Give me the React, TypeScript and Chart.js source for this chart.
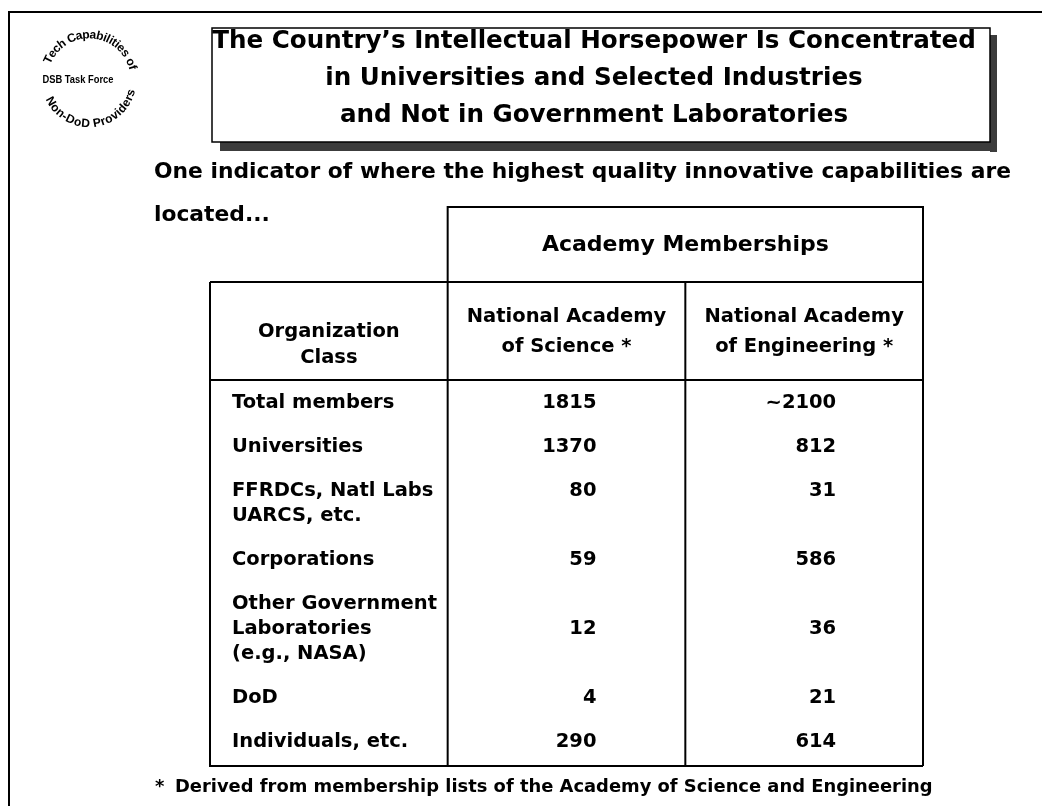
import React, { useEffect, useRef } from 'react';
import { Chart, registerables } from 'chart.js';

Chart.register(...registerables);

// ---------- data ----------
const titleLines = [
  'The Country\u2019s Intellectual Horsepower Is Concentrated',
  'in Universities and Selected Industries',
  'and Not in Government Laboratories',
];
const subtitleLines = [
  'One indicator of where the highest quality innovative capabilities are',
  'located...',
];
const groupHeader = 'Academy Memberships';
const columnKeys = ['org', 'nas', 'nae'];
const columnHeaders = ['Organization\nClass', 'National Academy\nof Science *', 'National Academy\nof Engineering *'];
const rowLabels = [
  'Total members',
  'Universities',
  'FFRDCs, Natl Labs\nUARCS, etc.',
  'Corporations',
  'Other Government\nLaboratories\n(e.g., NASA)',
  'DoD',
  'Individuals, etc.',
];
const scienceMembers = [1815, 1370, 80, 59, 12, 4, 290];
const engineeringMembers = [2100, 812, 31, 586, 36, 21, 614];
const engineeringApprox = [true, false, false, false, false, false, false];
const footnote = 'Derived from membership lists of the Academy of Science and Engineering';
const logoTop = 'Tech Capabilities of';
const logoMiddle = 'DSB Task Force';
const logoBottom = 'Non-DoD Providers';

// ---------- layout (y values are in text-line units) ----------
const ROW_GAP = 0.76;
const Y_MIN = -7.84;
const Y_MAX = 14.52;
const Y_GROUP_TEXT = -6.32;
const Y_TABLE_TOP = -4.84;
const Y_HEADER_LINE = -0.92;
const FONT = '"DejaVu Sans", sans-serif';

const rowLineCounts = rowLabels.map((l) => l.split('\n').length);
const rowStart: number[] = [];
{
  let acc = 0;
  rowLineCounts.forEach((n) => {
    rowStart.push(acc);
    acc += n + ROW_GAP;
  });
}
const valueRow = rowStart.map((s, i) => s + Math.floor((rowLineCounts[i] - 1) / 2));

function txt(ctx: CanvasRenderingContext2D, s: string, x: number, y: number, size: number, align: CanvasTextAlign = 'left', font = FONT) {
  ctx.font = `bold ${size}px ${font}`;
  ctx.textAlign = align;
  ctx.textBaseline = 'middle';
  ctx.fillStyle = '#000';
  ctx.fillText(s, x, y);
}

function arcText(ctx: CanvasRenderingContext2D, s: string, cx: number, cy: number, r: number, mid: number, top: boolean) {
  ctx.font = `bold 12px "Liberation Sans", sans-serif`;
  const total = ctx.measureText(s).width;
  const span = total / r;
  let a = top ? mid - span / 2 : mid + span / 2;
  for (const ch of s) {
    const w = ctx.measureText(ch).width;
    const ac = top ? a + w / 2 / r : a - w / 2 / r;
    ctx.save();
    ctx.translate(cx + r * Math.cos(ac), cy + r * Math.sin(ac));
    ctx.rotate(top ? ac + Math.PI / 2 : ac - Math.PI / 2);
    ctx.textAlign = 'center';
    ctx.textBaseline = 'middle';
    ctx.fillStyle = '#000';
    ctx.fillText(ch, 0, 0);
    ctx.restore();
    a = top ? a + w / r : a - w / r;
  }
}

const tablePlugin = {
  id: 'academyTable',
  beforeDraw(chart: any) {
    const ctx: CanvasRenderingContext2D = chart.ctx;
    ctx.save();
    ctx.fillStyle = '#fff';
    ctx.fillRect(0, 0, chart.width, chart.height);
    ctx.restore();
  },
  afterDraw(chart: any) {
    const ctx: CanvasRenderingContext2D = chart.ctx;
    const xs = chart.scales.x;
    const ys = chart.scales.y;
    const area = chart.chartArea;
    const cc = (i: number) => xs.getPixelForValue(i);
    const half = (cc(1) - cc(0)) / 2;
    const colLeft = (i: number) => cc(i) - half;
    const py = (v: number) => ys.getPixelForValue(v);
    ctx.save();

    // page frame
    ctx.strokeStyle = '#000';
    ctx.lineWidth = 2;
    ctx.beginPath();
    ctx.moveTo(9, chart.height);
    ctx.lineTo(9, 12);
    ctx.lineTo(chart.width, 12);
    ctx.stroke();

    // logo
    const lcx = 89, lcy = 80;
    arcText(ctx, logoTop, lcx, lcy, 45, -Math.PI * 0.48, true);
    arcText(ctx, logoBottom, lcx, lcy, 44, Math.PI * 0.47, false);
    ctx.save();
    ctx.translate(78, 80);
    ctx.scale(0.85, 1);
    txt(ctx, logoMiddle, 0, 0, 11, 'center', '"Liberation Sans", sans-serif');
    ctx.restore();

    // title box with shadow
    ctx.fillStyle = '#3c3c3c';
    ctx.fillRect(990, 35, 7, 117);
    ctx.fillRect(220, 142, 777, 9);
    ctx.fillStyle = '#fff';
    ctx.fillRect(212, 28, 778, 114);
    ctx.lineWidth = 1.5;
    ctx.strokeRect(212, 28, 778, 114);
    titleLines.forEach((l, i) => txt(ctx, l, 594, 42 + i * 37, 24.6, 'center'));

    // subtitle
    subtitleLines.forEach((l, i) => txt(ctx, l, 154, 172 + i * 43, 21.8, 'left'));

    // table lines
    const right = area.right;
    const left = colLeft(0);
    const d1 = colLeft(1);
    const d2 = colLeft(2);
    ctx.lineWidth = 2;
    ctx.strokeStyle = '#000';
    ctx.beginPath();
    ctx.moveTo(d1, py(Y_TABLE_TOP));
    ctx.lineTo(d1, area.top);
    ctx.lineTo(right, area.top);
    ctx.lineTo(right, area.bottom);
    ctx.moveTo(left, py(Y_TABLE_TOP));
    ctx.lineTo(right, py(Y_TABLE_TOP));
    ctx.moveTo(left, py(Y_TABLE_TOP));
    ctx.lineTo(left, area.bottom);
    ctx.lineTo(right, area.bottom);
    ctx.moveTo(d1, py(Y_TABLE_TOP));
    ctx.lineTo(d1, area.bottom);
    ctx.moveTo(d2, py(Y_TABLE_TOP));
    ctx.lineTo(d2, area.bottom);
    ctx.moveTo(left, py(Y_HEADER_LINE));
    ctx.lineTo(right, py(Y_HEADER_LINE));
    ctx.stroke();

    // group header text
    txt(ctx, groupHeader, (d1 + right) / 2, py(Y_GROUP_TEXT), 22, 'center');

    // column headers
    columnHeaders.forEach((h, c) => {
      const lines = h.split('\n');
      const step = c === 0 ? 1.04 : 1.2;
      const mid = c === 0 ? -2.32 : -2.84;
      lines.forEach((l, k) => {
        const v = mid + (k - (lines.length - 1) / 2) * step;
        txt(ctx, l, cc(c), py(v), 19.5, 'center');
      });
    });

    // row labels
    rowLabels.forEach((lab, r) => {
      lab.split('\n').forEach((l, k) => {
        txt(ctx, l, left + 22, py(rowStart[r] + k), 19.5, 'left');
      });
    });

    // values from dataset elements
    const metaS = chart.getDatasetMeta(0);
    const metaE = chart.getDatasetMeta(1);
    metaS.data.forEach((pt: any, i: number) => {
      txt(ctx, String(scienceMembers[i]), pt.x + 30, pt.y, 19.5, 'right');
    });
    metaE.data.forEach((pt: any, i: number) => {
      const s = (engineeringApprox[i] ? '~' : '') + String(engineeringMembers[i]);
      txt(ctx, s, pt.x + 32, pt.y, 19.5, 'right');
    });

    // footnote
    txt(ctx, '*', 155, 787, 17.9, 'left');
    txt(ctx, footnote, 175, 787, 17.9, 'left');

    ctx.restore();
  },
};

export default function App() {
  const ref = useRef<HTMLCanvasElement>(null);
  useEffect(() => {
    document.body.style.margin = '0';
    document.body.style.overflow = 'hidden';
    const chart = new Chart(ref.current as HTMLCanvasElement, {
      type: 'scatter',
      data: {
        datasets: [
          {
            label: 'National Academy of Science',
            data: scienceMembers.map((_, i) => ({ x: columnKeys[1], y: valueRow[i] })) as any,
            pointRadius: 0,
            showLine: false,
          },
          {
            label: 'National Academy of Engineering',
            data: engineeringMembers.map((_, i) => ({ x: columnKeys[2], y: valueRow[i] })) as any,
            pointRadius: 0,
            showLine: false,
          },
        ],
      },
      options: {
        animation: false,
        responsive: false,
        events: [],
        layout: { padding: { left: 210, right: 119, top: 207, bottom: 40 } },
        plugins: { legend: { display: false }, tooltip: { enabled: false } },
        scales: {
          x: { type: 'category', labels: columnKeys, offset: true, display: false },
          y: { type: 'linear', reverse: true, min: Y_MIN, max: Y_MAX, display: false },
        },
      },
      plugins: [tablePlugin],
    });
    return () => chart.destroy();
  }, []);
  return <canvas ref={ref} width={1042} height={806} style={{ display: 'block', width: 1042, height: 806 }} />;
}
